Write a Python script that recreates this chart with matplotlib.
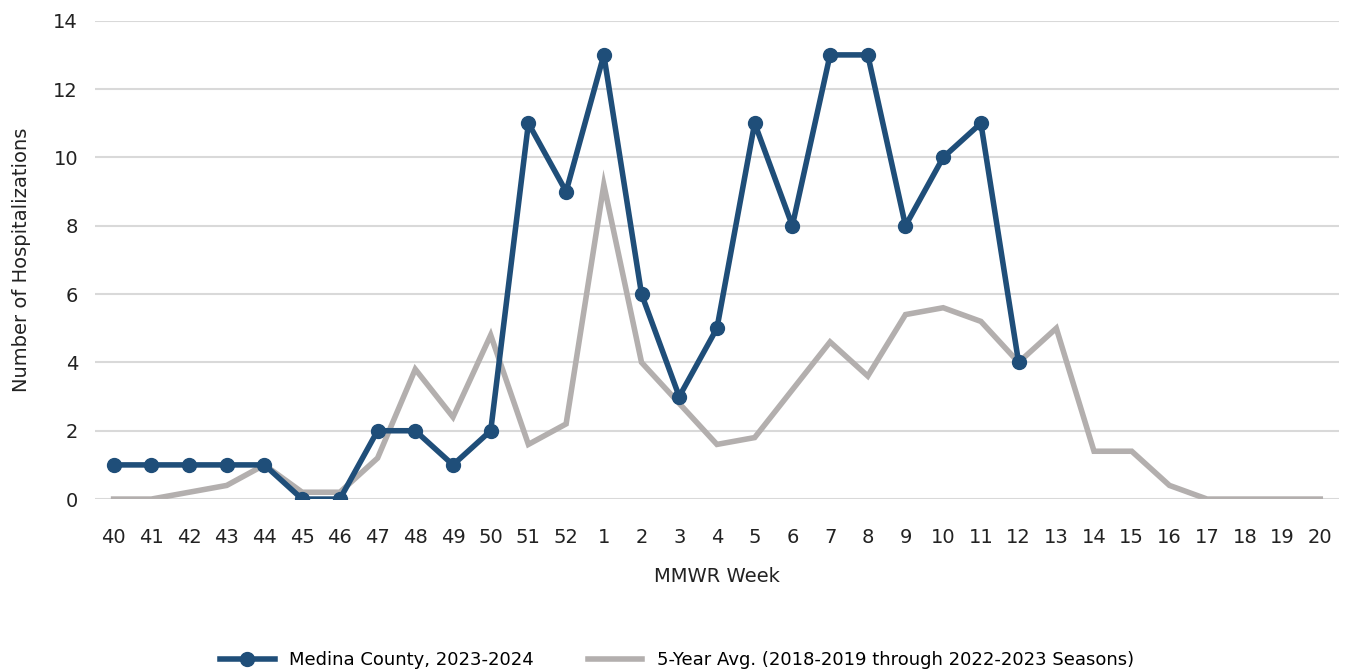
import matplotlib.pyplot as plt
import numpy as np

weeks = ['40', '41', '42', '43', '44', '45', '46', '47', '48', '49', '50', '51', '52',
         '1', '2', '3', '4', '5', '6', '7', '8', '9', '10', '11', '12', '13', '14',
         '15', '16', '17', '18', '19', '20']
medina = [1, 1, 1, 1, 1, 0, 0, 2, 2, 1, 2, 11, 9, 13, 6, 3, 5, 11, 8, 13, 13, 8, 10, 11, 4]
avg5 = [0, 0, 0.2, 0.4, 1.0, 0.2, 0.2, 1.2, 3.8, 2.4, 4.8, 1.6, 2.2, 9.2, 4.0, 2.8, 1.6,
        1.8, 3.2, 4.6, 3.6, 5.4, 5.6, 5.2, 4.0, 5.0, 1.4, 1.4, 0.4, 0, 0, 0, 0]

plt.rcParams['font.family'] = ['DejaVu Sans']

fig = plt.figure(figsize=(13.54, 6.69), dpi=100)
ax = fig.add_axes([0.070, 0.254, 0.919, 0.715])

x = np.arange(len(weeks))
ax.plot(x, avg5, color='#B3AFAE', lw=4, solid_joinstyle='miter',
        label='5-Year Avg. (2018-2019 through 2022-2023 Seasons)', zorder=2)
ax.plot(np.arange(len(medina)), medina, color='#1F4E79', lw=4, marker='o', ms=10,
        label='Medina County, 2023-2024', zorder=3)

ax.set_xlim(-0.5, len(weeks) - 0.5)
ax.set_ylim(0, 14)
ax.set_yticks(range(0, 15, 2))
ax.set_xticks(x)
ax.set_xticklabels(weeks)
ax.tick_params(axis='x', length=0, labelsize=14, colors='#222222', pad=21)
ax.tick_params(axis='y', length=0, labelsize=14, colors='#222222', pad=12)
ax.grid(axis='y', color='#D9D9D9', lw=1.5)
ax.set_axisbelow(True)
for s in ax.spines.values():
    s.set_visible(False)

ax.set_xlabel('MMWR Week', fontsize=14, color='#222222', labelpad=14)
ax.set_ylabel('Number of Hospitalizations', fontsize=14, color='#222222', labelpad=16)

h, l = ax.get_legend_handles_labels()
fig.legend(h[::-1], l[::-1], loc='lower center', bbox_to_anchor=(0.5, -0.025), ncol=2,
           frameon=False, fontsize=13, handlelength=3, columnspacing=3)

fig.savefig('out.png', dpi=100)
